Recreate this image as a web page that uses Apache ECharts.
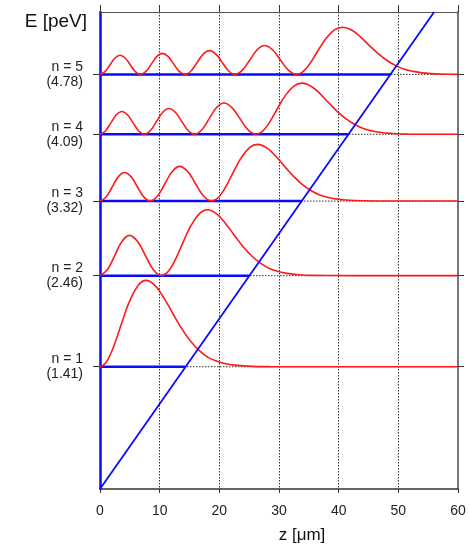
<!DOCTYPE html>
<html><head><meta charset="utf-8">
<script src="https://cdn.jsdelivr.net/npm/echarts@6/dist/echarts.min.js"></script>
<style>html,body{margin:0;padding:0;background:#fff}#c{width:470px;height:544px}</style>
</head><body><div id="c"></div>
<script>
// Energy levels
const levelN = [1, 2, 3, 4, 5];
const levelE = [1.41, 2.46, 3.32, 4.09, 4.78];
// x axis ticks (z in micrometres)
const xTicks = [0, 10, 20, 30, 40, 50, 60];
const yMax = 5.5;
// linear gravitational potential
const potentialZ = [0, 56];
const potentialE = [0, 5.5];

// probability densities, height above each level (peV)
const psi1Z = [0, 0.81, 1.40, 1.98, 2.57, 3.15, 4.03, 4.91, 6.38, 7.74, 9.32, 10.78, 12.25, 13.72, 15.19, 16.66, 18.12, 19.59, 21.06, 22.53, 25.46, 28.40, 35, 60];
const psi1H = [0, 0.033, 0.093, 0.179, 0.285, 0.403, 0.583, 0.747, 0.937, 0.995, 0.929, 0.785, 0.608, 0.437, 0.294, 0.186, 0.108, 0.063, 0.034, 0.018, 0.004, 0.001, 0, 0];

const psi2Z = [0, 1.23, 2.47, 3.70, 4.93, 6.27, 7.61, 8.94, 10.28, 11.09, 11.68, 12.26, 12.85, 13.43, 14.31, 15.19, 16.66, 18.02, 19.60, 21.06, 22.53, 24.00, 25.47, 26.94, 28.40, 29.87, 31.34, 32.81, 35.74, 38.68, 45, 60];
const psi2H = [0, 0.068, 0.232, 0.396, 0.464, 0.396, 0.232, 0.068, 0, 0.025, 0.071, 0.137, 0.217, 0.307, 0.445, 0.570, 0.715, 0.759, 0.709, 0.599, 0.464, 0.333, 0.224, 0.142, 0.083, 0.048, 0.026, 0.014, 0.003, 0.001, 0, 0];

const psi3Z = [0, 1.03, 2.06, 3.08, 4.11, 5.19, 6.26, 7.34, 8.41, 9.64, 10.88, 12.11, 13.34, 14.68, 16.01, 17.35, 18.68, 19.50, 20.09, 20.67, 21.26, 21.84, 22.72, 23.60, 25.07, 26.43, 28.01, 29.47, 30.94, 32.41, 33.88, 35.35, 36.81, 38.28, 39.75, 41.22, 44.15, 47.09, 52, 60];
const psi3H = [0, 0.048, 0.165, 0.282, 0.330, 0.282, 0.165, 0.048, 0, 0.058, 0.200, 0.342, 0.400, 0.342, 0.200, 0.058, 0, 0.022, 0.061, 0.118, 0.187, 0.265, 0.383, 0.491, 0.616, 0.654, 0.611, 0.516, 0.400, 0.287, 0.193, 0.122, 0.071, 0.042, 0.022, 0.012, 0.003, 0.001, 0, 0];

const psi4Z = [0, 0.92, 1.83, 2.75, 3.66, 4.60, 5.55, 6.49, 7.43, 8.46, 9.49, 10.52, 11.55, 12.62, 13.70, 14.77, 15.84, 17.07, 18.31, 19.54, 20.77, 22.11, 23.45, 24.78, 26.12, 26.93, 27.52, 28.10, 28.69, 29.27, 30.15, 31.03, 32.50, 33.86, 35.44, 36.90, 38.37, 39.84, 41.31, 42.78, 44.24, 45.71, 47.18, 48.65, 51.58, 54.52, 60];
const psi4H = [0, 0.038, 0.132, 0.225, 0.263, 0.225, 0.132, 0.038, 0, 0.043, 0.149, 0.254, 0.297, 0.254, 0.149, 0.043, 0, 0.053, 0.181, 0.308, 0.361, 0.308, 0.181, 0.053, 0, 0.019, 0.055, 0.106, 0.169, 0.239, 0.346, 0.443, 0.556, 0.590, 0.551, 0.466, 0.360, 0.259, 0.174, 0.110, 0.064, 0.038, 0.020, 0.011, 0.002, 0.001, 0];

const psi5Z = [0, 0.84, 1.68, 2.52, 3.36, 4.22, 5.08, 5.93, 6.79, 7.71, 8.62, 9.54, 10.45, 11.39, 12.34, 13.28, 14.22, 15.25, 16.28, 17.31, 18.34, 19.41, 20.49, 21.56, 22.63, 23.87, 25.10, 26.34, 27.57, 28.91, 30.24, 31.58, 32.91, 33.72, 34.31, 34.89, 35.48, 36.06, 36.94, 37.82, 39.29, 40.65, 42.23, 43.69, 45.16, 46.63, 48.10, 49.57, 51.03, 52.50, 53.97, 55.44, 58.37, 60];
const psi5H = [0, 0.032, 0.111, 0.190, 0.222, 0.190, 0.111, 0.032, 0, 0.035, 0.122, 0.208, 0.243, 0.208, 0.122, 0.035, 0, 0.040, 0.138, 0.235, 0.275, 0.235, 0.138, 0.040, 0, 0.049, 0.167, 0.285, 0.334, 0.285, 0.167, 0.049, 0, 0.018, 0.051, 0.098, 0.156, 0.221, 0.319, 0.409, 0.513, 0.545, 0.509, 0.430, 0.333, 0.239, 0.161, 0.102, 0.059, 0.035, 0.018, 0.010, 0.002, 0.001];

const FONT = '"Liberation Sans", Arial, Helvetica, sans-serif';
const BLUE = '#0a0aff';
const RED = '#ff1a1a';
const psiZ = [psi1Z, psi2Z, psi3Z, psi4Z, psi5Z];
const psiH = [psi1H, psi2H, psi3H, psi4H, psi5H];
const slope = potentialE[1] / potentialZ[1];
const zMin = xTicks[0], zMax = xTicks[xTicks.length - 1];

const series = [];
levelE.forEach(E => series.push({
  type: 'line', data: [[zMin, E], [zMax, E]], symbol: 'none', silent: true,
  lineStyle: { color: '#333', width: 1, type: [1.5, 1.5] }, z: 1
}));
levelE.forEach(E => series.push({
  type: 'line', data: [[0, E], [E / slope, E]], symbol: 'none', silent: true,
  lineStyle: { color: BLUE, width: 2.5 }, z: 2
}));
psiZ.forEach((zs, i) => series.push({
  type: 'line', smooth: 0.4, symbol: 'none', silent: true,
  data: zs.map((z, j) => [z, levelE[i] + psiH[i][j]]),
  lineStyle: { color: RED, width: 1.6 }, z: 3
}));
series.push({
  type: 'line', symbol: 'none', silent: true,
  data: potentialZ.map((z, i) => [z, potentialE[i]]),
  lineStyle: { color: BLUE, width: 1.8 }, z: 4
});

function levelLabel(v) {
  let k = 0;
  levelE.forEach((E, i) => { if (Math.abs(E - v) < Math.abs(levelE[k] - v)) k = i; });
  return 'n = ' + levelN[k] + '\n(' + levelE[k].toFixed(2) + ')';
}

const chart = echarts.init(document.getElementById('c'), null, { renderer: 'canvas' });
chart.setOption({
  animation: false,
  backgroundColor: '#fff',
  grid: { left: 100, right: 12, top: 12, bottom: 55 },
  xAxis: [{
    type: 'value', position: 'bottom', min: zMin, max: zMax, interval: 10,
    axisLine: { onZero: false, lineStyle: { color: '#333', width: 1.5 } },
    axisTick: { length: 4, lineStyle: { color: '#333' } },
    axisLabel: { fontSize: 14, color: '#222', margin: 15, fontFamily: FONT },
    splitLine: { show: true, lineStyle: { color: '#333', width: 1, type: [1.5, 1.5] } }
  }, {
    type: 'value', position: 'top', min: zMin, max: zMax, interval: 10,
    axisLine: { onZero: false, lineStyle: { color: '#555', width: 1 } },
    axisTick: { length: 7, lineStyle: { color: '#333' } },
    axisLabel: { show: false }, splitLine: { show: false }
  }],
  yAxis: [{
    type: 'value', position: 'left', min: 0, max: yMax, interval: 0.5,
    axisLine: { show: true, onZero: false, lineStyle: { color: BLUE, width: 2.5 } },
    axisTick: { show: true, customValues: levelE, length: 7, lineStyle: { color: '#333' } },
    axisLabel: { customValues: levelE, formatter: levelLabel, margin: 17, fontSize: 14, lineHeight: 15, color: '#222', fontFamily: FONT, align: 'right' },
    splitLine: { show: false }
  }, {
    type: 'value', position: 'right', min: 0, max: yMax, interval: 0.5,
    axisLine: { show: true, onZero: false, lineStyle: { color: '#777', width: 2 } },
    axisTick: { show: true, customValues: levelE, length: 6, lineStyle: { color: '#333' } },
    axisLabel: { show: false }, splitLine: { show: false }
  }],
  graphic: [
    { type: 'text', x: 87, y: 22, style: { text: 'E [peV]', fill: '#111', font: '19px ' + FONT, textAlign: 'right', textVerticalAlign: 'middle' } },
    { type: 'text', x: 302, y: 535, style: { text: 'z [μm]', fill: '#111', font: '17px ' + FONT, textAlign: 'center', textVerticalAlign: 'middle' } }
  ],
  series: series
});
</script>
</body></html>
